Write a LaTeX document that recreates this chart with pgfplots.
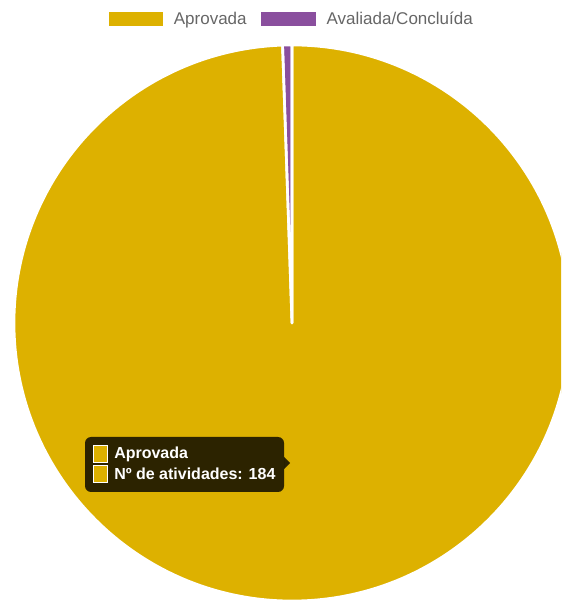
\documentclass[border=0pt]{standalone}
\usepackage{fontspec}
\setmainfont{Liberation Sans}
\usepackage{pgfplots}
\usepackage{pgfplotstable}
\pgfplotsset{compat=1.18}

\definecolor{aprov}{HTML}{DDB100}
\definecolor{aval}{HTML}{8A4F9E}
\definecolor{legtext}{HTML}{666666}

\pgfplotstableread{
label value
Aprovada 184
Avaliada/Concluída 1
}\piedata

\begin{document}
\begin{tikzpicture}
% slice angles, clockwise from 12 o'clock
\pgfplotstablegetelem{0}{value}\of\piedata \let\va\pgfplotsretval
\pgfplotstablegetelem{1}{value}\of\piedata \let\vb\pgfplotsretval
\pgfmathsetmacro{\tot}{\va+\vb}
\pgfmathsetmacro{\aA}{90}
\pgfmathsetmacro{\aB}{90-\va/\tot*360}
\pgfmathsetmacro{\aC}{90-(\va+\vb)/\tot*360}
\def\R{208.5pt}
\begin{axis}[
    x=0.75pt, y=0.75pt,
    xmin=0, xmax=561, ymin=0, ymax=603,
    hide axis,
    legend columns=2,
    legend style={draw=none, fill=none, at={(axis cs:292,584)}, anchor=center,
        font=\fontsize{12.75}{15}\selectfont, text=legtext,
        /tikz/every odd column/.append style={column sep=6pt},
        /tikz/every even column/.append style={column sep=9pt}},
    legend image code/.code={\fill[#1, draw=none] (0pt,-5.5pt) rectangle (41pt,5.5pt);},
]
\addlegendimage{fill=aprov}
\addlegendentry{Aprovada}
\addlegendimage{fill=aval}
\addlegendentry{Avaliada/Concluída}

\coordinate (bl) at (axis cs:0,0);
\coordinate (tr) at (axis cs:561,603);

% pie slices
\fill[aprov] (axis cs:292,280) -- ++(\aA:\R) arc[start angle=\aA, end angle=\aB, radius=\R] -- cycle;
\fill[aval] (axis cs:292,280) -- ++(\aB:\R) arc[start angle=\aB, end angle=\aC, radius=\R] -- cycle;
\draw[white, line width=2pt, line join=round] (axis cs:292,280) -- ++(\aA:\R) arc[start angle=\aA, end angle=\aB, radius=\R] -- cycle;
\draw[white, line width=2pt, line join=round] (axis cs:292,280) -- ++(\aB:\R) arc[start angle=\aB, end angle=\aC, radius=\R] -- cycle;

% tooltip
\fill[black, opacity=0.8, rounded corners=4.5pt] (axis cs:85,111) rectangle (axis cs:284,166);
\fill[black, opacity=0.8] (axis cs:284,146) -- (axis cs:290,140) -- (axis cs:284,134) -- cycle;
\filldraw[fill=aprov, draw=white, line width=0.75pt] (axis cs:93.5,140.5) rectangle (axis cs:107.5,157.5);
\filldraw[fill=aprov, draw=white, line width=0.75pt] (axis cs:93.5,120.5) rectangle (axis cs:107.5,137.5);
\node[anchor=base west, inner sep=0pt, text=white, font=\fontsize{12}{14}\selectfont\bfseries] at (axis cs:114,144) {Aprovada};
\node[anchor=base west, inner sep=0pt, text=white, font=\fontsize{12}{14}\selectfont\bfseries] at (axis cs:114,123) {Nº de atividades: 184};
\end{axis}
\pgfresetboundingbox
\path (bl) rectangle (tr);
\end{tikzpicture}
\end{document}
